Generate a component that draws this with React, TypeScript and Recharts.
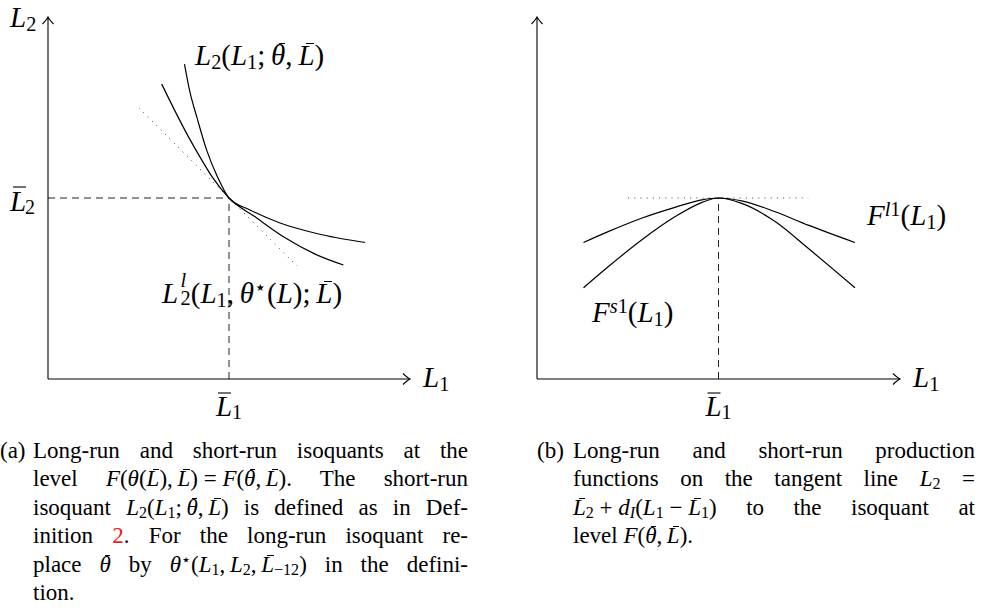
import { LineChart, Line, XAxis, YAxis, ReferenceLine, ReferenceDot } from 'recharts';

// (a) isoquants through (L̄1, L̄2)
const shortIsoL1 = [3.77, 3.92, 4.11, 4.38, 4.68, 5.0, 5.58, 6.41, 7.42, 8.76];
const shortIsoL2 = [8.7, 7.93, 7.24, 6.33, 5.59, 5.0, 4.67, 4.31, 4.02, 3.77];
const longIsoL1 = [3.14, 3.51, 3.87, 4.2, 4.53, 5.0, 5.72, 6.55, 7.38, 8.16];
const longIsoL2 = [8.15, 7.4, 6.71, 6.13, 5.59, 5.0, 4.48, 3.9, 3.45, 3.15];
const barL1 = 5;
const barL2 = 5;
const tangentL1 = [2.51, 6.88];
const tangentL2 = [7.49, 3.12];

// (b) production functions along the tangent line
const longFnL1 = [1.28, 1.96, 2.88, 3.8, 4.54, 5.0, 5.64, 6.56, 7.47, 8.76];
const longFnF = [3.77, 4.07, 4.44, 4.74, 4.95, 5.0, 4.92, 4.62, 4.25, 3.77];
const shortFnL1 = [1.28, 1.96, 2.88, 3.8, 4.55, 5.0, 5.64, 6.56, 7.47, 8.76];
const shortFnF = [2.52, 3.1, 3.84, 4.48, 4.88, 5.0, 4.85, 4.35, 3.61, 2.52];
const flatL1 = [2.51, 7.47];
const peakF = 5;

const axisMax = 10;

const toPoints = (xs: number[], ys: number[]) => xs.map((x, i) => ({ x, y: ys[i] }));

const FONT = '"Liberation Serif", "DejaVu Serif", serif';
const LABEL_SIZE = 29;
const CAP_SIZE = 23;
const CAP_TOP = 437;
const CAP_LH = 28.4;

const I = ({ children }: any) => <i>{children}</i>;
const Sub = ({ children, shift = '-0.2em', ml }: any) => (
  <span style={{ fontSize: '0.7em', verticalAlign: shift, lineHeight: 0, marginLeft: ml }}>{children}</span>
);
const Sup = ({ children, shift = '0.45em' }: any) => (
  <span style={{ fontSize: '0.7em', verticalAlign: shift, lineHeight: 0 }}>{children}</span>
);
// superscript stacked over a subscript
const SupSub = ({ sup, sub }: any) => (
  <span
    style={{
      display: 'inline-block',
      fontSize: '0.7em',
      lineHeight: 0.85,
      verticalAlign: '-0.1em',
      marginTop: '-0.35em',
      marginLeft: '0.12em',
    }}
  >
    <i>{sup}</i>
    <br />
    {sub}
  </span>
);
const Bar = ({ children }: any) => (
  <span style={{ position: 'relative', display: 'inline-block', lineHeight: 1 }}>
    <i>{children}</i>
    <span
      style={{
        position: 'absolute',
        left: '0.26em',
        right: '0.02em',
        top: '0.09em',
        borderTop: '1px solid currentColor',
      }}
    />
  </span>
);
const th = '\u2009';
const md = '\u2005';

const Label = ({ left, base, size = LABEL_SIZE, children }: any) => (
  <div
    style={{
      position: 'absolute',
      left,
      top: base - size * 0.8375,
      fontSize: size,
      lineHeight: 1,
      whiteSpace: 'nowrap',
    }}
  >
    {children}
  </div>
);

const CapLine = ({ i, left, width, last, children }: any) => (
  <div
    style={{
      position: 'absolute',
      left,
      top: CAP_TOP + i * CAP_LH,
      width,
      fontSize: CAP_SIZE,
      lineHeight: `${CAP_LH}px`,
      textAlign: last ? 'left' : 'justify',
      textAlignLast: last ? 'left' : 'justify',
    }}
  >
    {children}
  </div>
);

// L̄ with a subscript, drawn as an axis tick
const BarTickX = ({ x, y }: any) => (
  <g>
    <line x1={x - 11} x2={x + 2} y1={y + 14} y2={y + 14} stroke="#000" strokeWidth={1.1} />
    <text x={x - 13} y={y + 37} fontFamily={FONT} fontSize={LABEL_SIZE} fontStyle="italic" fill="#000">
      L
    </text>
    <text x={x + 3} y={y + 40} fontFamily={FONT} fontSize={20} fill="#000">
      1
    </text>
  </g>
);

const BarTickY = ({ x, y }: any) => (
  <g>
    <line x1={x - 35} x2={x - 22} y1={y - 11} y2={y - 11} stroke="#000" strokeWidth={1.1} />
    <text x={x - 38} y={y + 13} fontFamily={FONT} fontSize={LABEL_SIZE} fontStyle="italic" fill="#000">
      L
    </text>
    <text x={x - 23} y={y + 16} fontFamily={FONT} fontSize={20} fill="#000">
      2
    </text>
  </g>
);

const ArrowRight = ({ cx, cy }: any) => (
  <path
    d={`M${cx - 7},${cy - 5.5} Q${cx - 2.5},${cy - 1.2} ${cx},${cy} Q${cx - 2.5},${cy + 1.2} ${cx - 7},${cy + 5.5}`}
    fill="none"
    stroke="#000"
    strokeWidth={1.1}
  />
);

const ArrowUp = ({ cx, cy }: any) => (
  <path
    d={`M${cx - 5.5},${cy + 7} Q${cx - 1.2},${cy + 2.5} ${cx},${cy} Q${cx + 1.2},${cy + 2.5} ${cx + 5.5},${cy + 7}`}
    fill="none"
    stroke="#000"
    strokeWidth={1.1}
  />
);

const curveProps = {
  dataKey: 'y',
  type: 'monotone' as const,
  stroke: '#000',
  strokeWidth: 1.2,
  dot: false,
  isAnimationActive: false,
};

const axisStyle = {
  type: 'number' as const,
  domain: [0, axisMax],
  interval: 0 as const,
  tickSize: 0,
  tickMargin: 0,
  tickLine: false,
  allowDataOverflow: true,
  axisLine: { stroke: '#000', strokeWidth: 1.1 },
};

function IsoquantChart() {
  return (
    <LineChart width={440} height={425} margin={{ top: 17, right: 30, bottom: 45, left: 47 }}>
      <XAxis {...axisStyle} dataKey="x" ticks={[barL1]} height={1} tick={(p: any) => <BarTickX {...p} />} />
      <YAxis {...axisStyle} ticks={[barL2]} width={1} tick={(p: any) => <BarTickY {...p} />} />
      <ReferenceLine segment={[{ x: 0, y: barL2 }, { x: barL1, y: barL2 }]} stroke="#222" strokeDasharray="7 5" />
      <ReferenceLine segment={[{ x: barL1, y: 0 }, { x: barL1, y: barL2 }]} stroke="#222" strokeDasharray="7 5" />
      <ReferenceLine
        segment={[
          { x: tangentL1[0], y: tangentL2[0] },
          { x: tangentL1[1], y: tangentL2[1] },
        ]}
        stroke="#444"
        strokeDasharray="1 5.2"
      />
      <Line data={toPoints(shortIsoL1, shortIsoL2)} {...curveProps} />
      <Line data={toPoints(longIsoL1, longIsoL2)} {...curveProps} />
      <ReferenceDot x={axisMax} y={0} r={0} shape={(p: any) => <ArrowRight {...p} />} />
      <ReferenceDot x={0} y={axisMax} r={0} shape={(p: any) => <ArrowUp {...p} />} />
    </LineChart>
  );
}

function ProductionChart() {
  return (
    <LineChart width={440} height={425} margin={{ top: 17, right: 30, bottom: 45, left: 46 }}>
      <XAxis {...axisStyle} dataKey="x" ticks={[barL1]} height={1} tick={(p: any) => <BarTickX {...p} />} />
      <YAxis {...axisStyle} ticks={[peakF]} width={1} tick={false} />
      <ReferenceLine segment={[{ x: barL1, y: 0 }, { x: barL1, y: peakF }]} stroke="#222" strokeDasharray="7 5" />
      <ReferenceLine
        segment={[
          { x: flatL1[0], y: peakF },
          { x: flatL1[1], y: peakF },
        ]}
        stroke="#444"
        strokeDasharray="1 5.2"
      />
      <Line data={toPoints(longFnL1, longFnF)} {...curveProps} />
      <Line data={toPoints(shortFnL1, shortFnF)} {...curveProps} />
      <ReferenceDot x={axisMax} y={0} r={0} shape={(p: any) => <ArrowRight {...p} />} />
      <ReferenceDot x={0} y={axisMax} r={0} shape={(p: any) => <ArrowUp {...p} />} />
    </LineChart>
  );
}

export default function App() {
  return (
    <div
      style={{
        position: 'absolute',
        left: 0,
        top: 0,
        width: 981,
        height: 615,
        background: '#fff',
        color: '#000',
        fontFamily: FONT,
        overflow: 'hidden',
      }}
    >
      <div style={{ position: 'absolute', left: 0, top: 0 }}>
        <IsoquantChart />
      </div>
      <div style={{ position: 'absolute', left: 490, top: 0 }}>
        <ProductionChart />
      </div>

      {/* panel (a) labels */}
      <Label left={10} base={27}>
        <I>L</I>
        <Sub>2</Sub>
      </Label>
      <Label left={423} base={387}>
        <I>L</I>
        <Sub>1</Sub>
      </Label>
      <Label left={195} base={65}>
        <I>L</I>
        <Sub>2</Sub>(<I>L</I>
        <Sub>1</Sub>;{th}
        <Bar>θ</Bar>,{th}
        <Bar>L</Bar>)
      </Label>
      <Label left={162} base={303}>
        <I>L</I>
        <SupSub sup="l" sub="2" />
        (<I>L</I>
        <Sub>1</Sub>,{th}
        <I>θ</I>
        <Sup>⋆</Sup>(<I>L</I>);{th}
        <Bar>L</Bar>)
      </Label>

      {/* panel (b) labels */}
      <Label left={913} base={387}>
        <I>L</I>
        <Sub>1</Sub>
      </Label>
      <Label left={867} base={225}>
        <I>F</I>
        <Sup>
          <I>l</I>1
        </Sup>
        (<I>L</I>
        <Sub>1</Sub>)
      </Label>
      <Label left={592} base={322}>
        <I>F</I>
        <Sup>
          <I>s</I>1
        </Sup>
        (<I>L</I>
        <Sub>1</Sub>)
      </Label>

      {/* caption (a) */}
      <CapLine i={0} left={0} width={40} last>
        (a)
      </CapLine>
      <CapLine i={0} left={33} width={435}>
        Long-run and short-run isoquants at the
      </CapLine>
      <CapLine i={1} left={33} width={435}>
        level <I>F</I>(<I>θ</I>(<Bar>L</Bar>),{th}
        <Bar>L</Bar>){md}={md}
        <I>F</I>(<Bar>θ</Bar>,{th}
        <Bar>L</Bar>). The short-run
      </CapLine>
      <CapLine i={2} left={33} width={435}>
        isoquant <I>L</I>
        <Sub>2</Sub>(<I>L</I>
        <Sub>1</Sub>;{th}
        <Bar>θ</Bar>,{th}
        <Bar>L</Bar>) is defined as in Def-
      </CapLine>
      <CapLine i={3} left={33} width={435}>
        inition <span style={{ color: '#ee1c1c' }}>2</span>. For the long-run isoquant re-
      </CapLine>
      <CapLine i={4} left={33} width={435}>
        place <Bar>θ</Bar> by <I>θ</I>
        <Sup>⋆</Sup>(<I>L</I>
        <Sub>1</Sub>,{th}
        <I>L</I>
        <Sub>2</Sub>,{th}
        <Bar>L</Bar>
        <Sub>−12</Sub>) in the defini-
      </CapLine>
      <CapLine i={5} left={33} width={435} last>
        tion.
      </CapLine>

      {/* caption (b) */}
      <CapLine i={0} left={537} width={40} last>
        (b)
      </CapLine>
      <CapLine i={0} left={573} width={402}>
        Long-run and short-run production
      </CapLine>
      <CapLine i={1} left={573} width={402}>
        functions on the tangent line <I>L</I>
        <Sub>2</Sub> =
      </CapLine>
      <CapLine i={2} left={573} width={402}>
        <Bar>L</Bar>
        <Sub>2</Sub>
        {md}+{md}
        <I>d</I>
        <Sub>
          <I>I</I>
        </Sub>
        (<I>L</I>
        <Sub>1</Sub>
        {md}−{md}
        <Bar>L</Bar>
        <Sub>1</Sub>) to the isoquant at
      </CapLine>
      <CapLine i={3} left={573} width={402} last>
        level <I>F</I>(<Bar>θ</Bar>,{th}
        <Bar>L</Bar>).
      </CapLine>
    </div>
  );
}
